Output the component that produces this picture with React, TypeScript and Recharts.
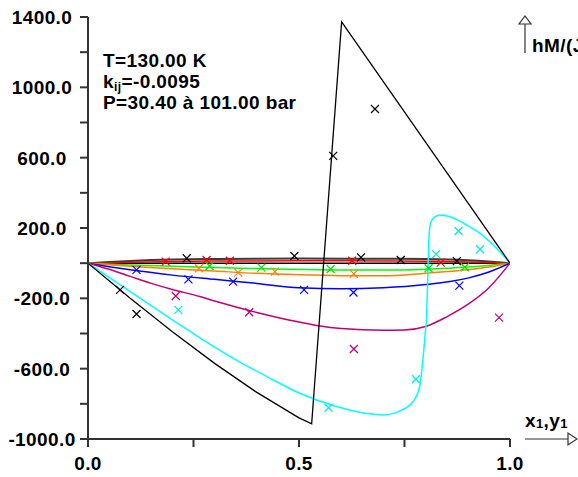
import React from 'react';
import { ComposedChart, Line, Scatter, XAxis, YAxis } from 'recharts';

// ---- ticks ----
const xTicks = [0, 0.25, 0.5, 0.75, 1];
const xLabelTicks = [0, 0.5, 1];
const yTicks = [-1000, -800, -600, -400, -200, 0, 200, 400, 600, 800, 1000, 1200, 1400];
const yLabelTicks = [-1000, -600, -200, 200, 600, 1000, 1400];

// ---- curves ----
const blackLoopX = [0, 0.1, 0.2, 0.3, 0.4, 0.5, 0.53, 0.601, 1];
const blackLoopY = [0, -200, -390, -570, -735, -880, -914, 1372, 0];

const grayX = [0, 0.05, 0.1, 0.2, 0.3, 0.5, 0.7, 0.8, 0.9, 0.95, 1];
const grayY = [0, 7, 13, 21, 24, 26, 25, 23, 16, 9, 0];

const redX = [0, 0.1, 0.2, 0.3, 0.5, 0.7, 0.8, 0.9, 1];
const redY = [0, 5, 9, 12, 14, 13, 11, 7, 0];

const zeroX = [0, 1];
const zeroY = [0, 0];

const greenX = [0, 0.1, 0.2, 0.3, 0.4, 0.5, 0.6, 0.7, 0.8, 0.9, 1];
const greenY = [0, -10, -18, -25, -31, -36, -39, -39, -34, -22, 0];

const orangeX = [0, 0.1, 0.2, 0.3, 0.4, 0.5, 0.6, 0.7, 0.8, 0.85, 0.9, 0.95, 1];
const orangeY = [0, -18, -32, -45, -58, -66, -71, -72, -57, -48, -38, -22, 0];

const blueX = [0, 0.05, 0.1, 0.2, 0.3, 0.4, 0.5, 0.6, 0.7, 0.8, 0.9, 0.95, 1];
const blueY = [0, -20, -38, -68, -92, -115, -140, -145, -140, -122, -85, -50, 0];

const magentaX = [0, 0.05, 0.1, 0.15, 0.2, 0.265, 0.3, 0.4, 0.5, 0.55, 0.6, 0.7, 0.75, 0.8, 0.85, 0.9, 0.95, 1];
const magentaY = [0, -35, -75, -115, -150, -190, -215, -280, -335, -358, -372, -382, -380, -360, -305, -235, -140, 0];

const cyanX = [0, 0.1, 0.2, 0.265, 0.344, 0.424, 0.502, 0.581, 0.66, 0.7, 0.739, 0.77, 0.786, 0.795, 0.799, 0.802, 0.805, 0.808, 0.812, 0.82, 0.834, 0.858, 0.897, 0.929, 0.968, 1];
const cyanY = [0, -162, -323, -425, -541, -645, -740, -810, -855, -863, -840, -788, -700, -513, -400, -320, -96, 150, 230, 260, 274, 264, 217, 170, 85, 0];

// ---- markers ----
const blackMarkX = [0.076, 0.115, 0.234, 0.489, 0.581, 0.647, 0.68, 0.741, 0.874];
const blackMarkY = [-152, -289, 28, 41, 610, 33, 877, 18, 12];

const redMarkX = [0.184, 0.281, 0.336, 0.626, 0.836];
const redMarkY = [9, 18, 14, 14, 3];

const greenMarkX = [0.288, 0.411, 0.575, 0.807, 0.893];
const greenMarkY = [-16, -25, -33, -29, -23];

const orangeMarkX = [0.263, 0.356, 0.443, 0.63];
const orangeMarkY = [-29, -54, -48, -61];

const blueMarkX = [0.115, 0.238, 0.344, 0.512, 0.629, 0.88];
const blueMarkY = [-38, -92, -105, -152, -167, -128];

const magentaMarkX = [0.208, 0.382, 0.63, 0.974];
const magentaMarkY = [-187, -279, -488, -310];

const cyanMarkX = [0.214, 0.57, 0.777, 0.825, 0.878, 0.929];
const cyanMarkY = [-266, -822, -660, 51, 183, 79];

const zip = (xs: number[], ys: number[]) => xs.map((x, i) => ({ x, y: ys[i] }));

const FONT = '"Liberation Sans", Arial, Helvetica, sans-serif';
const FS = 19;

const curves = [
  { key: 'zero', xs: zeroX, ys: zeroY, color: '#000000', w: 1.5, type: 'linear' },
  { key: 'gray', xs: grayX, ys: grayY, color: '#3c3c3c', w: 2, type: 'monotone' },
  { key: 'red', xs: redX, ys: redY, color: '#ff0000', w: 1.5, type: 'monotone' },
  { key: 'green', xs: greenX, ys: greenY, color: '#00ff00', w: 1.5, type: 'monotone' },
  { key: 'orange', xs: orangeX, ys: orangeY, color: '#ff8000', w: 1.5, type: 'monotone' },
  { key: 'blue', xs: blueX, ys: blueY, color: '#0000ff', w: 1.5, type: 'monotone' },
  { key: 'magenta', xs: magentaX, ys: magentaY, color: '#c0007a', w: 1.5, type: 'monotone' },
  { key: 'cyan', xs: cyanX, ys: cyanY, color: '#00ffff', w: 1.5, type: 'monotone' },
  { key: 'blackLoop', xs: blackLoopX, ys: blackLoopY, color: '#000000', w: 1.3, type: 'linear' },
];

const markers = [
  { key: 'mBlack', xs: blackMarkX, ys: blackMarkY, color: '#000000' },
  { key: 'mRed', xs: redMarkX, ys: redMarkY, color: '#ff0000' },
  { key: 'mGreen', xs: greenMarkX, ys: greenMarkY, color: '#00e000' },
  { key: 'mOrange', xs: orangeMarkX, ys: orangeMarkY, color: '#ff8000' },
  { key: 'mBlue', xs: blueMarkX, ys: blueMarkY, color: '#0000ff' },
  { key: 'mMagenta', xs: magentaMarkX, ys: magentaMarkY, color: '#c0007a' },
  { key: 'mCyan', xs: cyanMarkX, ys: cyanMarkY, color: '#00e8e8' },
];

const crossShape = (color: string) => (props: any) => {
  const { cx, cy } = props;
  if (cx == null || cy == null) return <g />;
  const s = 4;
  return (
    <path
      d={`M${cx - s},${cy - s}L${cx + s},${cy + s}M${cx - s},${cy + s}L${cx + s},${cy - s}`}
      stroke={color}
      strokeWidth={1.2}
      fill="none"
    />
  );
};

const YTick = (props: any) => {
  const { y, payload } = props;
  const v = payload.value;
  if (!yLabelTicks.includes(v)) return <g />;
  return (
    <text x={42} y={y} dy={7} textAnchor="middle" fontFamily={FONT} fontWeight="bold" fontSize={FS} letterSpacing={0.4} fill="#000">
      {v.toFixed(1)}
    </text>
  );
};

const XTick = (props: any) => {
  const { x, y, payload } = props;
  const v = payload.value;
  if (!xLabelTicks.includes(v)) return <g />;
  return (
    <text x={x} y={y} dy={21} textAnchor="middle" fontFamily={FONT} fontWeight="bold" fontSize={FS} letterSpacing={0.4} fill="#000">
      {v.toFixed(1)}
    </text>
  );
};

const Empty = () => <g />;

export default function App() {
  const axisStroke = '#333333';
  return (
    <div style={{ position: 'absolute', left: 0, top: 0, width: 578, height: 477, background: '#fff' }}>
      <ComposedChart width={578} height={477} margin={{ top: 17, right: 68, bottom: 0, left: 0 }}>
        <XAxis
          dataKey="x"
          type="number"
          domain={[0, 1]}
          ticks={xTicks}
          tick={<XTick />}
          tickSize={8}
          stroke={axisStroke}
          strokeWidth={2}
          height={38}
          allowDataOverflow
        />
        <XAxis
          xAxisId="top"
          orientation="top"
          type="number"
          domain={[0, 1]}
          ticks={xTicks}
          tick={<Empty />}
          tickSize={7}
          mirror
          stroke={axisStroke}
          strokeWidth={2}
          height={0}
          allowDataOverflow
        />
        <YAxis
          dataKey="y"
          type="number"
          domain={[-1000, 1400]}
          ticks={yTicks}
          tick={<YTick />}
          tickSize={8}
          stroke={axisStroke}
          strokeWidth={2}
          width={88}
          allowDataOverflow
        />
        <YAxis
          yAxisId="right"
          orientation="right"
          type="number"
          domain={[-1000, 1400]}
          ticks={yTicks}
          tick={<Empty />}
          tickSize={7}
          mirror
          stroke={axisStroke}
          strokeWidth={2}
          width={0}
          allowDataOverflow
        />
        {curves.map((c) => (
          <Line
            key={c.key}
            data={zip(c.xs, c.ys)}
            dataKey="y"
            type={c.type as any}
            stroke={c.color}
            strokeWidth={c.w}
            dot={false}
            activeDot={false}
            isAnimationActive={false}
          />
        ))}
        {markers.map((m) => (
          <Scatter
            key={m.key}
            data={zip(m.xs, m.ys)}
            dataKey="y"
            shape={crossShape(m.color)}
            isAnimationActive={false}
          />
        ))}
      </ComposedChart>
      <svg width={578} height={477} style={{ position: 'absolute', left: 0, top: 0, pointerEvents: 'none' }}>
        <g fontFamily={FONT} fontWeight="bold" fontSize={FS} letterSpacing={0.4} fill="#000">
          <text x={103} y={67}>T=130.00 K</text>
          <text x={103} y={88}>
            k<tspan fontSize={12} dy={3}>ij</tspan>
            <tspan dy={-3}>=-0.0095</tspan>
          </text>
          <text x={103} y={109}>P=30.40 à 101.00 bar</text>
          <text x={532} y={52}>hM/(J/mol)</text>
          <text x={525} y={427}>
            x<tspan fontSize={13} dy={1}>1</tspan>
            <tspan dy={-1}>,y</tspan>
            <tspan fontSize={13} dy={1}>1</tspan>
          </text>
        </g>
        <g stroke="#333" strokeWidth={1.2} fill="#fff">
          <line x1={525} y1={24} x2={525} y2={53} />
          <path d="M519,24L531,24L525,16Z" />
          <line x1={525} y1={439} x2={568} y2={439} />
          <path d="M568,433L568,445L577,439Z" />
        </g>
      </svg>
    </div>
  );
}
